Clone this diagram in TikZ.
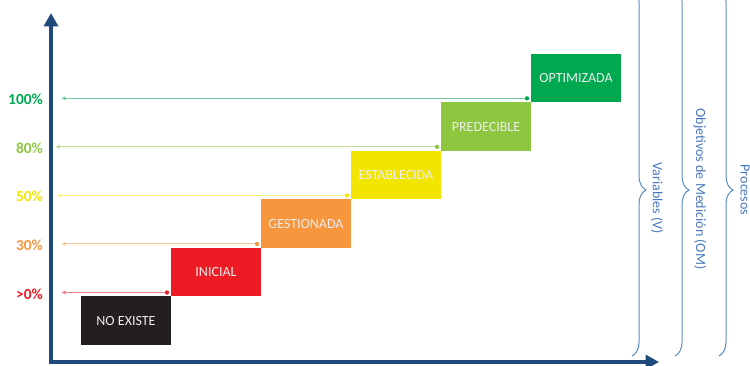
\documentclass[tikz,border=0pt]{standalone}
\usepackage{fontspec}
\setmainfont{Carlito}
\usepackage{tikz}
\usepackage{xcolor}
\usetikzlibrary{positioning}
\usetikzlibrary{arrows.meta,decorations.pathreplacing}

\definecolor{cEje}{HTML}{1F4A7C}
\definecolor{cNegro}{HTML}{231F20}
\definecolor{cRojo}{HTML}{ED1C24}
\definecolor{cNaranja}{HTML}{F7963D}
\definecolor{cAmarillo}{HTML}{F2E600}
\definecolor{cVerdeClaro}{HTML}{8DC63F}
\definecolor{cVerde}{HTML}{00A94F}
\definecolor{cLlave}{HTML}{5A8AC6}
\definecolor{cTextoLlave}{HTML}{4A78BE}

\begin{document}
\begin{tikzpicture}[x=0.75pt,y=-0.75pt,
   nivel/.style={minimum width=67.5pt,minimum height=36.4pt,inner sep=0pt,outer sep=0pt,
      text=white!93!black,font=\fontsize{10.5}{12}\selectfont},
   punto/.style={circle,fill=#1,inner sep=0pt,outer sep=0pt,minimum size=3.2pt},
   flecha/.style={draw=#1!55,line width=0.8pt,-{Latex[length=3.5pt,width=3.2pt,fill=#1]}},
   pct/.style={anchor=east,inner sep=0pt,font=\fontsize{11.5}{13}\selectfont\bfseries,text=#1},
   eje/.style={draw=cEje,line width=2.3pt,{Triangle[length=10pt,width=10.5pt]}-{Triangle[length=10pt,width=10.5pt]}},
   llave/.style={draw=cLlave,line width=0.75pt,decorate,
      decoration={brace,amplitude=10.5pt,aspect=0.549}},
   txtllave/.style={rotate=-90,inner sep=0pt,text=cTextoLlave,font=\fontsize{10.5}{12}\selectfont}]
\useasboundingbox (0,0) rectangle (750,365);

% ejes
\coordinate (origen) at (51,362);
\coordinate (ytope) at (51,13);
\coordinate (xfin) at (659,362);
\draw[eje] (ytope) -- (origen) -- (xfin);

% niveles
\node[nivel,fill=cNegro,anchor=south west] (noexiste) at (81,345) {NO EXISTE};
\node[nivel,fill=cRojo,above right=0pt and 0pt of noexiste] (inicial) {INICIAL};
\node[nivel,fill=cNaranja,above right=0pt and 0pt of inicial] (gestionada) {GESTIONADA};
\node[nivel,fill=cAmarillo,above right=0pt and 0pt of gestionada] (establecida) {ESTABLECIDA};
\node[nivel,fill=cVerdeClaro,above right=0pt and 0pt of establecida] (predecible) {PREDECIBLE};
\node[nivel,fill=cVerde,above right=0pt and 0pt of predecible] (optimizada) {OPTIMIZADA};

% puntos y flechas al eje
\node[punto=cRojo] (p1) at ([shift={(-4,-4)}]inicial.south west) {};
\node[punto=cNaranja] (p2) at ([shift={(-4,-4)}]gestionada.south west) {};
\node[punto=cAmarillo] (p3) at ([shift={(-4,-4)}]establecida.south west) {};
\node[punto=cVerdeClaro] (p4) at ([shift={(-4,-4)}]predecible.south west) {};
\node[punto=cVerde] (p5) at ([shift={(-4,-4)}]optimizada.south west) {};
\coordinate (e1) at (61,0 |- p1);
\coordinate (e2) at (61,0 |- p2);
\coordinate (e3) at (57,0 |- p3);
\coordinate (e4) at (55,0 |- p4);
\coordinate (e5) at (61,0 |- p5);
\draw[flecha=cRojo] (p1) -- (e1);
\draw[flecha=cNaranja] (p2) -- (e2);
\draw[flecha=cAmarillo] (p3) -- (e3);
\draw[flecha=cVerdeClaro] (p4) -- (e4);
\draw[flecha=cVerde] (p5) -- (e5);

\node[pct=cRojo] (l1) at ([yshift=-1]43,0 |- e1) {>0\%};
\node[pct=cNaranja] (l2) at ([yshift=-1]43,0 |- e2) {30\%};
\node[pct=cAmarillo] (l3) at ([yshift=-1]43,0 |- e3) {50\%};
\node[pct=cVerdeClaro] (l4) at ([yshift=-1]43,0 |- e4) {80\%};
\node[pct=cVerde] (l5) at ([yshift=-1]43,0 |- e5) {100\%};

% llaves
\draw[llave] (632,-12) -- (632,356);
\draw[llave] (675,-12) -- (675,356);
\draw[llave] (719,-12) -- (719,356);
\node[txtllave] (variables) at (657,198) {Variables (V)};
\node[txtllave] (objetivos) at (700,189) {Objetivos de Medición (OM)};
\node[txtllave] (procesos) at (745,190) {Procesos};
\end{tikzpicture}
\end{document}
